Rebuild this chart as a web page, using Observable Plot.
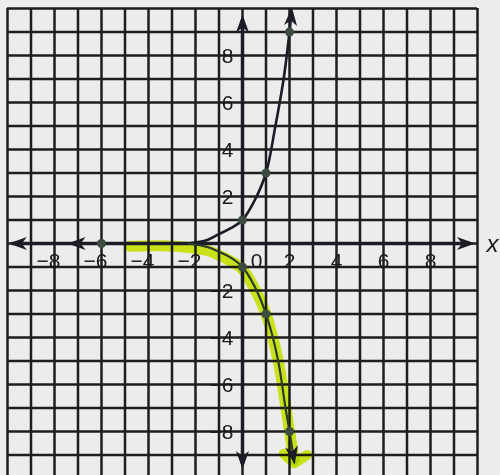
<!DOCTYPE html>
<html><head><meta charset="utf-8">
<script src="https://cdn.jsdelivr.net/npm/d3@7"></script>
<script src="https://cdn.jsdelivr.net/npm/@observablehq/plot@0.6"></script>
<style>
body{margin:0;background:#ececec;}
#chart svg{display:block;}
</style>
</head><body><div id="chart"></div>
<script>
// grid lines (one per unit)
const gridValues = [-10,-9,-8,-7,-6,-5,-4,-3,-2,-1,0,1,2,3,4,5,6,7,8,9,10];
// tick labels
const xTickValues = [-8,-6,-4,-2,2,4,6,8];
const xTickLabels = ["−8","−6","−4","−2","2","4","6","8"];
const yTickValues = [8,6,4,2,-2,-4,-6,-8];
const yTickLabels = ["8","6","4","2","−2","−4","−6","−8"];
// y = 3^x curve as drawn
const upperX = [-2.3,-1.5,-1,-0.5,0,0.5,1,1.4,1.75,2,2.08];
const upperY = [0,0.15,0.4,0.65,1,1.8,3,5,7,9,9.8];
// y = -3^x curve as drawn
const lowerX = [-2.3,-1.5,-1,-0.5,0,0.5,1,1.5,1.83,2,2.2];
const lowerY = [0,-0.15,-0.35,-0.6,-1,-1.8,-3,-4.9,-7,-8,-9.3];
// highlighter stroke
const highlightX = [-4.8,-3.5,-2.5,-1.5,-1,-0.5,0,0.5,1,1.5,1.85,2.05,2.2];
const highlightY = [-0.12,-0.1,-0.15,-0.3,-0.5,-0.75,-1.1,-1.9,-3,-4.9,-7,-8.3,-9.2];
const highlight2X = [1.75,2.2,2.75];
const highlight2Y = [-8.95,-9.35,-9.0];
// plotted points
const pointX = [0,1,2,0,1,2,-6];
const pointY = [1,3,9,-1,-3,-8,0];
// axes extents
const axisXLine = [{x1:-9.8, x2:9.7, y:0}];
const axisYLine = [{y1:-9.4, y2:9.5, x:0}];
// arrowheads: tip position and direction (degrees clockwise from up)
const arrowX = [-9.95, 9.9, 0, 0, -7.45, 2.1, 2.22];
const arrowY = [0, 0, 9.75, -9.6, 0, 10.05, -9.4];
const arrowDir = [-90, 90, 0, 180, -90, 4, 170];

const ink = "#1c1c26";

const arrowHead = {
  draw(ctx, size) {
    const r = Math.sqrt(size / Math.PI);
    const L = r * 2.8, W = r;
    ctx.moveTo(0, 0);
    ctx.lineTo(-W, L);
    ctx.lineTo(0, L * 0.72);
    ctx.lineTo(W, L);
    ctx.closePath();
  }
};

const toXY = (xs, ys) => xs.map((x, i) => ({x, y: ys[i]}));
const upper = toXY(upperX, upperY);
const lower = toXY(lowerX, lowerY);
const highlight = toXY(highlightX, highlightY);
const highlight2 = toXY(highlight2X, highlight2Y);
const points = toXY(pointX, pointY);
const arrows = arrowX.map((x, i) => ({x, y: arrowY[i], dir: arrowDir[i]}));
const xTicks = xTickValues.map((v, i) => ({v, t: xTickLabels[i]}));
const yTicks = yTickValues.map((v, i) => ({v, t: yTickLabels[i]}));

const font = "Liberation Sans, Arial, sans-serif";

const chart = Plot.plot({
  width: 500,
  height: 475,
  marginLeft: 7,
  marginRight: 23,
  marginTop: 8,
  marginBottom: 0,
  style: {background: "#ececec", overflow: "visible"},
  x: {domain: [-10, 10], axis: null},
  y: {domain: [-9.872, 10], axis: null},
  marks: [
    Plot.ruleX(gridValues, {x: d => d, stroke: "#1e1e1e", strokeWidth: 2.5}),
    Plot.ruleY(gridValues.filter(v => v > -10), {y: d => d, stroke: "#1e1e1e", strokeWidth: 2.5}),
    Plot.line(highlight, {x: "x", y: "y", curve: "catmull-rom", stroke: "#d6f200", strokeWidth: 11, strokeOpacity: 0.9, strokeLinecap: "round", mixBlendMode: "multiply"}),
    Plot.line(highlight2, {x: "x", y: "y", curve: "linear", stroke: "#d6f200", strokeWidth: 10, strokeOpacity: 0.9, strokeLinecap: "round", strokeLinejoin: "round", mixBlendMode: "multiply"}),
    Plot.ruleY(axisXLine, {y: "y", x1: "x1", x2: "x2", stroke: ink, strokeWidth: 3.5}),
    Plot.ruleX(axisYLine, {x: "x", y1: "y1", y2: "y2", stroke: ink, strokeWidth: 3.5}),
    Plot.line(upper, {x: "x", y: "y", curve: "catmull-rom", stroke: ink, strokeWidth: 2.6}),
    Plot.line(lower, {x: "x", y: "y", curve: "catmull-rom", stroke: "#2a3a30", strokeWidth: 2.2}),
    Plot.dot(arrows, {x: "x", y: "y", rotate: "dir", symbol: arrowHead, r: 6.5, fill: ink, stroke: "none"}),
    Plot.dot(points, {x: "x", y: "y", r: 4.5, fill: "#3c4c40", stroke: "none"}),
    Plot.text(xTicks, {x: "v", y: 0, text: "t", textAnchor: "end", dx: 6, dy: 18, fontSize: 21, fontFamily: font, fill: "#1a1a1a"}),
    Plot.text(yTicks, {x: 0, y: "v", text: "t", textAnchor: "end", dx: -9, dy: 1, fontSize: 21, fontFamily: font, fill: "#1a1a1a"}),
    Plot.text([0], {x: d => d, y: 0, text: ["0"], textAnchor: "middle", dx: 14, dy: 18, fontSize: 21, fontFamily: font, fill: "#1a1a1a"}),
    Plot.text([10], {x: d => d, y: 0, text: ["x"], textAnchor: "middle", dx: 15, dy: 1, fontSize: 24, fontStyle: "italic", fontFamily: font, fill: "#1a1a1a"})
  ]
});
document.getElementById("chart").appendChild(chart);
</script>
</body></html>
